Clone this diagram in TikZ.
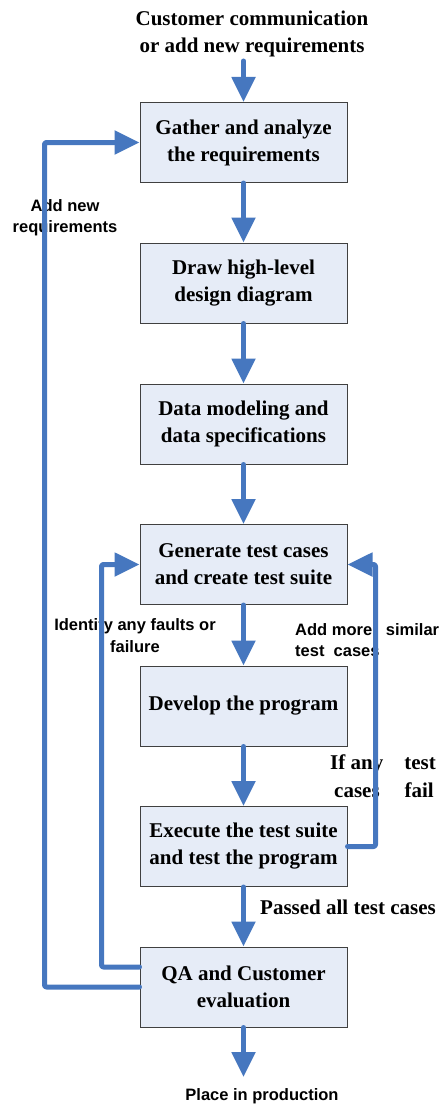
\documentclass[tikz,border=0pt]{standalone}
\usepackage{fontspec}
\setmainfont{Liberation Serif}
\setsansfont{Liberation Sans}
\usetikzlibrary{arrows.meta}
\definecolor{flowblue}{HTML}{4677BF}
\definecolor{boxfill}{HTML}{E6ECF7}
\definecolor{boxline}{HTML}{404040}
\tikzset{
  stepbox/.style={draw=boxline, line width=1pt, fill=boxfill, minimum width=207pt, minimum height=80pt, inner sep=0pt, align=center, font=\bfseries\fontsize{21}{27}\selectfont},
  flow/.style={draw=flowblue, line width=5pt, line cap=round, line join=round, rounded corners=2pt, -{Triangle[width=23pt,length=25pt]}},
  seriflabel/.style={inner sep=0pt, font=\bfseries\fontsize{21}{27}\selectfont},
  sanslabel/.style={inner sep=0pt, font=\sffamily\bfseries\fontsize{16.5}{21.5}\selectfont}
}
\begin{document}
\begin{tikzpicture}[x={(1pt,0)}, y={(0,-1pt)}]
\useasboundingbox (0,0) rectangle (442,1105);
% boxes
\node[stepbox] (b1) at (243.5,142.5) {Gather and analyze\\the requirements};
\node[stepbox] (b2) at (243.5,283) {Draw high-level\\design diagram};
\node[stepbox] (b3) at (243.5,424) {Data modeling and\\data specifications};
\node[stepbox] (b4) at (243.5,564.5) {Generate test cases\\and create test suite};
\node[stepbox] (b5) at (243.5,706) {Develop the program};
\node[stepbox] (b6) at (243.5,846.5) {Execute the test suite\\and test the program};
\node[stepbox] (b7) at (243.5,987) {QA and Customer\\evaluation};
% labels
\node[seriflabel, align=center] (tin) at (252,33.5) {Customer communication\\or add new requirements};
\node[sanslabel, align=center] (lnew) at (65,217.5) {Add new\\requirements};
\node[sanslabel, align=center] (lfault) at (135,635.5) {Identify any faults or\\failure};
\node[sanslabel, align=left, anchor=west] (lmore) at (295,640) {Add more\ \ \ similar\\test\ \ cases};
\node[seriflabel, anchor=base west] (lif1) at (330,769) {If any};
\node[seriflabel, anchor=base east] (lif2) at (436,769) {test};
\node[seriflabel, anchor=base west] (lif3) at (334,797) {cases};
\node[seriflabel, anchor=base east] (lif4) at (434,797) {fail};
\node[seriflabel, anchor=west] (lpass) at (260,907) {Passed all test cases};
\node[sanslabel] (lprod) at (262,1096) {Place in production};
% connector ends
\coordinate (topin) at (243.5,61);
\coordinate (botout) at (243.5,1077);
% connectors
\draw[flow] (topin) -- (b1.north);
\draw[flow] (b1.south) -- (b2.north);
\draw[flow] (b2.south) -- (b3.north);
\draw[flow] (b3.south) -- (b4.north);
\draw[flow] (b4.south) -- (b5.north);
\draw[flow] (b5.south) -- (b6.north);
\draw[flow] (b6.south) -- (b7.north);
\draw[flow] (b7.south) -- (botout);
\draw[flow] (b7.west) -- ++(-95,0) |- (b1.west);
\draw[flow] ([yshift=20pt]b7.west) -- ++(-38,0) |- (b4.west);
\draw[flow] (b6.east) -- ++(28,0) |- (b4.east);
\end{tikzpicture}
\end{document}
